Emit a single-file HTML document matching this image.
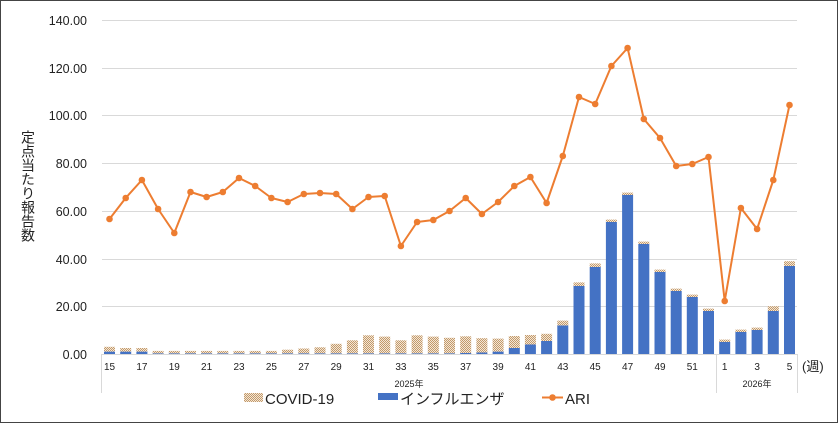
<!DOCTYPE html>
<html><head><meta charset="utf-8"><style>
html,body{margin:0;padding:0;background:#fff;}
svg{display:block;font-family:"Liberation Sans","Noto Sans CJK JP",sans-serif;}
</style></head><body>
<svg width="838" height="423" viewBox="0 0 838 423" xmlns="http://www.w3.org/2000/svg">
<defs>
<pattern id="cv" width="2" height="2" patternUnits="userSpaceOnUse">
<rect width="2" height="2" fill="#f3e6d6"/><rect width="1" height="1" fill="#c39a6b"/><rect x="1" y="1" width="1" height="1" fill="#c39a6b"/>
</pattern>
</defs>
<rect x="0.5" y="0.5" width="837" height="422" fill="#fff" stroke="#444"/>
<g stroke="#d9d9d9" stroke-width="1">
<line x1="102" y1="20.5" x2="797" y2="20.5"/>
<line x1="102" y1="68.5" x2="797" y2="68.5"/>
<line x1="102" y1="115.5" x2="797" y2="115.5"/>
<line x1="102" y1="163.5" x2="797" y2="163.5"/>
<line x1="102" y1="211.5" x2="797" y2="211.5"/>
<line x1="102" y1="259.5" x2="797" y2="259.5"/>
<line x1="102" y1="306.5" x2="797" y2="306.5"/>
<line x1="102" y1="354.5" x2="797" y2="354.5"/>
<line x1="101.5" y1="354" x2="101.5" y2="393"/>
<line x1="716.5" y1="354" x2="716.5" y2="393"/>
<line x1="797.5" y1="354" x2="797.5" y2="393"/>
</g>
<g font-size="12.5" fill="#222" text-anchor="end">
<text x="87" y="25">140.00</text>
<text x="87" y="73">120.00</text>
<text x="87" y="120">100.00</text>
<text x="87" y="168">80.00</text>
<text x="87" y="216">60.00</text>
<text x="87" y="264">40.00</text>
<text x="87" y="311">20.00</text>
<text x="87" y="359">0.00</text>
</g>
<text x="28" y="130" font-size="14" fill="#222" style="writing-mode:vertical-rl;letter-spacing:0">定点当たり報告数</text>
<g>
<!-- bars: blue then covid -->
<rect x="104" y="351.6" width="11" height="2.4" fill="#4472c4"/><rect x="104" y="346.8" width="11" height="4.8" fill="url(#cv)"/>
<rect x="120.2" y="351.6" width="11" height="2.4" fill="#4472c4"/><rect x="120.2" y="348" width="11" height="3.6" fill="url(#cv)"/>
<rect x="136.4" y="351.6" width="11" height="2.4" fill="#4472c4"/><rect x="136.4" y="348" width="11" height="3.6" fill="url(#cv)"/>
<rect x="152.6" y="353.3" width="11" height="0.7" fill="#4472c4"/><rect x="152.6" y="350.9" width="11" height="2.4" fill="url(#cv)"/>
<rect x="168.8" y="353.3" width="11" height="0.7" fill="#4472c4"/><rect x="168.8" y="350.9" width="11" height="2.4" fill="url(#cv)"/>
<rect x="185" y="353.3" width="11" height="0.7" fill="#4472c4"/><rect x="185" y="350.9" width="11" height="2.4" fill="url(#cv)"/>
<rect x="201.1" y="353.3" width="11" height="0.7" fill="#4472c4"/><rect x="201.1" y="350.9" width="11" height="2.4" fill="url(#cv)"/>
<rect x="217.3" y="353.3" width="11" height="0.7" fill="#4472c4"/><rect x="217.3" y="350.9" width="11" height="2.4" fill="url(#cv)"/>
<rect x="233.5" y="353.3" width="11" height="0.7" fill="#4472c4"/><rect x="233.5" y="350.9" width="11" height="2.4" fill="url(#cv)"/>
<rect x="249.7" y="353.3" width="11" height="0.7" fill="#4472c4"/><rect x="249.7" y="350.9" width="11" height="2.4" fill="url(#cv)"/>
<rect x="265.9" y="353.3" width="11" height="0.7" fill="#4472c4"/><rect x="265.9" y="350.9" width="11" height="2.4" fill="url(#cv)"/>
<rect x="282.1" y="353.3" width="11" height="0.7" fill="#4472c4"/><rect x="282.1" y="349.7" width="11" height="3.6" fill="url(#cv)"/>
<rect x="298.3" y="353.3" width="11" height="0.7" fill="#4472c4"/><rect x="298.3" y="348.5" width="11" height="4.8" fill="url(#cv)"/>
<rect x="314.5" y="353.3" width="11" height="0.7" fill="#4472c4"/><rect x="314.5" y="347.3" width="11" height="6" fill="url(#cv)"/>
<rect x="330.7" y="353.3" width="11" height="0.7" fill="#4472c4"/><rect x="330.7" y="343.8" width="11" height="9.5" fill="url(#cv)"/>
<rect x="346.9" y="353.3" width="11" height="0.7" fill="#4472c4"/><rect x="346.9" y="340.3" width="11" height="13" fill="url(#cv)"/>
<rect x="363" y="353.3" width="11" height="0.7" fill="#4472c4"/><rect x="363" y="335.3" width="11" height="18" fill="url(#cv)"/>
<rect x="379.2" y="353.3" width="11" height="0.7" fill="#4472c4"/><rect x="379.2" y="336.6" width="11" height="16.7" fill="url(#cv)"/>
<rect x="395.4" y="353.3" width="11" height="0.7" fill="#4472c4"/><rect x="395.4" y="340.3" width="11" height="13" fill="url(#cv)"/>
<rect x="411.6" y="353.3" width="11" height="0.7" fill="#4472c4"/><rect x="411.6" y="335.3" width="11" height="18" fill="url(#cv)"/>
<rect x="427.8" y="353.3" width="11" height="0.7" fill="#4472c4"/><rect x="427.8" y="336.6" width="11" height="16.7" fill="url(#cv)"/>
<rect x="444" y="353.3" width="11" height="0.7" fill="#4472c4"/><rect x="444" y="337.8" width="11" height="15.5" fill="url(#cv)"/>
<rect x="460.2" y="353" width="11" height="1" fill="#4472c4"/><rect x="460.2" y="336.3" width="11" height="16.7" fill="url(#cv)"/>
<rect x="476.4" y="352.5" width="11" height="1.5" fill="#4472c4"/><rect x="476.4" y="338.2" width="11" height="14.3" fill="url(#cv)"/>
<rect x="492.6" y="351.6" width="11" height="2.4" fill="#4472c4"/><rect x="492.6" y="338.6" width="11" height="13" fill="url(#cv)"/>
<rect x="508.8" y="348" width="11" height="6" fill="#4472c4"/><rect x="508.8" y="336" width="11" height="12" fill="url(#cv)"/>
<rect x="524.9" y="344.5" width="11" height="9.5" fill="#4472c4"/><rect x="524.9" y="335" width="11" height="9.5" fill="url(#cv)"/>
<rect x="541.1" y="341" width="11" height="13" fill="#4472c4"/><rect x="541.1" y="333.8" width="11" height="7.2" fill="url(#cv)"/>
<rect x="557.3" y="325.4" width="11" height="28.6" fill="#4472c4"/><rect x="557.3" y="320.6" width="11" height="4.8" fill="url(#cv)"/>
<rect x="573.5" y="286" width="11" height="68" fill="#4472c4"/><rect x="573.5" y="282.4" width="11" height="3.6" fill="url(#cv)"/>
<rect x="589.7" y="267" width="11" height="87" fill="#4472c4"/><rect x="589.7" y="263.4" width="11" height="3.6" fill="url(#cv)"/>
<rect x="605.9" y="222" width="11" height="132" fill="#4472c4"/><rect x="605.9" y="219.6" width="11" height="2.4" fill="url(#cv)"/>
<rect x="622.1" y="195" width="11" height="159" fill="#4472c4"/><rect x="622.1" y="192.6" width="11" height="2.4" fill="url(#cv)"/>
<rect x="638.3" y="244" width="11" height="110" fill="#4472c4"/><rect x="638.3" y="241.6" width="11" height="2.4" fill="url(#cv)"/>
<rect x="654.5" y="272" width="11" height="82" fill="#4472c4"/><rect x="654.5" y="269.6" width="11" height="2.4" fill="url(#cv)"/>
<rect x="670.7" y="291" width="11" height="63" fill="#4472c4"/><rect x="670.7" y="288.6" width="11" height="2.4" fill="url(#cv)"/>
<rect x="686.8" y="297" width="11" height="57" fill="#4472c4"/><rect x="686.8" y="294.6" width="11" height="2.4" fill="url(#cv)"/>
<rect x="703" y="311" width="11" height="43" fill="#4472c4"/><rect x="703" y="308.6" width="11" height="2.4" fill="url(#cv)"/>
<rect x="719.2" y="342" width="11" height="12" fill="#4472c4"/><rect x="719.2" y="339.6" width="11" height="2.4" fill="url(#cv)"/>
<rect x="735.4" y="332" width="11" height="22" fill="#4472c4"/><rect x="735.4" y="329.6" width="11" height="2.4" fill="url(#cv)"/>
<rect x="751.6" y="330" width="11" height="24" fill="#4472c4"/><rect x="751.6" y="327.6" width="11" height="2.4" fill="url(#cv)"/>
<rect x="767.8" y="311" width="11" height="43" fill="#4472c4"/><rect x="767.8" y="306.2" width="11" height="4.8" fill="url(#cv)"/>
<rect x="784" y="266" width="11" height="88" fill="#4472c4"/><rect x="784" y="261.2" width="11" height="4.8" fill="url(#cv)"/>
</g>
<polyline fill="none" stroke="#ed7d31" stroke-width="2" stroke-linejoin="round" points="109.5,219 125.7,198 141.9,180 158.1,209 174.3,233 190.5,192 206.6,197 222.8,192 239,178 255.2,186 271.4,198 287.6,202 303.8,194 320,193 336.2,194 352.4,209 368.5,197 384.7,196 400.9,246 417.1,222 433.3,220 449.5,211 465.7,198 481.9,214 498.1,202 514.3,186 530.4,177 546.6,203 562.8,156 579,97 595.2,104 611.4,66 627.6,48 643.8,119 660,138 676.2,166 692.3,164 708.5,157 724.7,301 740.9,208 757.1,229 773.3,180 789.5,105"/>
<g fill="#ed7d31">
<circle cx="109.5" cy="219" r="3.3"/><circle cx="125.7" cy="198" r="3.3"/><circle cx="141.9" cy="180" r="3.3"/><circle cx="158.1" cy="209" r="3.3"/><circle cx="174.3" cy="233" r="3.3"/><circle cx="190.5" cy="192" r="3.3"/><circle cx="206.6" cy="197" r="3.3"/><circle cx="222.8" cy="192" r="3.3"/><circle cx="239" cy="178" r="3.3"/><circle cx="255.2" cy="186" r="3.3"/><circle cx="271.4" cy="198" r="3.3"/><circle cx="287.6" cy="202" r="3.3"/><circle cx="303.8" cy="194" r="3.3"/><circle cx="320" cy="193" r="3.3"/><circle cx="336.2" cy="194" r="3.3"/><circle cx="352.4" cy="209" r="3.3"/><circle cx="368.5" cy="197" r="3.3"/><circle cx="384.7" cy="196" r="3.3"/><circle cx="400.9" cy="246" r="3.3"/><circle cx="417.1" cy="222" r="3.3"/><circle cx="433.3" cy="220" r="3.3"/><circle cx="449.5" cy="211" r="3.3"/><circle cx="465.7" cy="198" r="3.3"/><circle cx="481.9" cy="214" r="3.3"/><circle cx="498.1" cy="202" r="3.3"/><circle cx="514.3" cy="186" r="3.3"/><circle cx="530.4" cy="177" r="3.3"/><circle cx="546.6" cy="203" r="3.3"/><circle cx="562.8" cy="156" r="3.3"/><circle cx="579" cy="97" r="3.3"/><circle cx="595.2" cy="104" r="3.3"/><circle cx="611.4" cy="66" r="3.3"/><circle cx="627.6" cy="48" r="3.3"/><circle cx="643.8" cy="119" r="3.3"/><circle cx="660" cy="138" r="3.3"/><circle cx="676.2" cy="166" r="3.3"/><circle cx="692.3" cy="164" r="3.3"/><circle cx="708.5" cy="157" r="3.3"/><circle cx="724.7" cy="301" r="3.3"/><circle cx="740.9" cy="208" r="3.3"/><circle cx="757.1" cy="229" r="3.3"/><circle cx="773.3" cy="180" r="3.3"/><circle cx="789.5" cy="105" r="3.3"/>
</g>
<g font-size="10" fill="#222" text-anchor="middle">
<text x="109.5" y="370">15</text><text x="141.9" y="370">17</text><text x="174.3" y="370">19</text><text x="206.6" y="370">21</text><text x="239" y="370">23</text><text x="271.4" y="370">25</text><text x="303.8" y="370">27</text><text x="336.2" y="370">29</text><text x="368.5" y="370">31</text><text x="400.9" y="370">33</text><text x="433.3" y="370">35</text><text x="465.7" y="370">37</text><text x="498.1" y="370">39</text><text x="530.4" y="370">41</text><text x="562.8" y="370">43</text><text x="595.2" y="370">45</text><text x="627.6" y="370">47</text><text x="660" y="370">49</text><text x="692.3" y="370">51</text><text x="724.7" y="370">1</text><text x="757.1" y="370">3</text><text x="789.5" y="370">5</text>
<text x="409" y="387" font-size="9">2025年</text>
<text x="757" y="387" font-size="9">2026年</text>
</g>
<text x="802" y="371" font-size="13" fill="#222">(週)</text>
<g font-size="15" fill="#222">
<rect x="244" y="393" width="19" height="9" fill="url(#cv)"/>
<text x="265" y="404">COVID-19</text>
<rect x="378" y="393" width="20" height="7" fill="#4472c4"/>
<text x="400" y="404">インフルエンザ</text>
<line x1="542" y1="397.5" x2="563" y2="397.5" stroke="#ed7d31" stroke-width="2"/>
<circle cx="552.5" cy="397.5" r="3.3" fill="#ed7d31"/>
<text x="565" y="404">ARI</text>
</g>
</svg>
</body></html>
